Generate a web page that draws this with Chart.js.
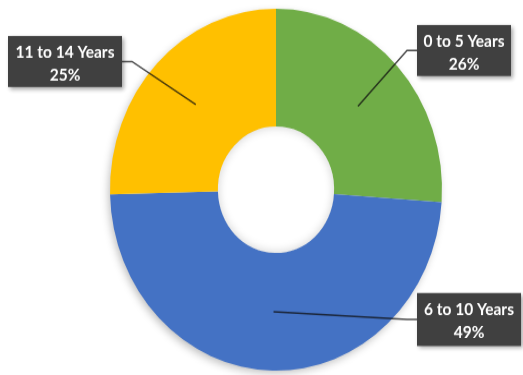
<!DOCTYPE html>
<html>
<head>
<meta charset="utf-8">
<script src="https://cdn.jsdelivr.net/npm/chart.js@4/dist/chart.umd.min.js"></script>
<style>
  html, body { margin: 0; padding: 0; background: #ffffff; }
  #wrap { width: 523px; height: 375px; overflow: hidden; }
  /* the source image is stretched vertically, so the round chart is too */
  #chart { display: block; transform-origin: 0 0; transform: scaleY(1.0901); }
</style>
</head>
<body>
<div id="wrap"><canvas id="chart" width="523" height="344"></canvas></div>
<script>
// data
const categories = ["0 to 5 Years", "6 to 10 Years", "11 to 14 Years"];
const shares = [26.1, 48.5, 25.4];
const sliceColors = ["#70AD47", "#4472C4", "#FFC000"];

// callout boxes, in page pixels: left, top, width, height, side the leader comes in from
const callouts = [
    { x: 417, y: 25, w: 94, h: 51, side: "left" },
    { x: 417, y: 293, w: 104, h: 53, side: "left" },
    { x: 8, y: 36, w: 114, h: 51, side: "right" },
];
const SY = 1.0901;

// soft shadow under the ring and inside the hole
const ringShadow = {
    id: "ringShadow",
    beforeDatasetsDraw(chart) {
        const arc = chart.getDatasetMeta(0).data[0];
        const ctx = chart.ctx;
        ctx.save();
        ctx.shadowColor = "rgba(0,0,0,0.28)";
        ctx.shadowBlur = 9;
        ctx.shadowOffsetX = -2;
        ctx.shadowOffsetY = 3;
        ctx.fillStyle = "#ffffff";
        ctx.beginPath();
        ctx.arc(arc.x, arc.y, arc.outerRadius - 1, 0, Math.PI * 2);
        ctx.fill();
        ctx.restore();
    },
    afterDatasetsDraw(chart) {
        const arc = chart.getDatasetMeta(0).data[0];
        const ctx = chart.ctx;
        ctx.save();
        ctx.beginPath();
        ctx.arc(arc.x, arc.y, arc.innerRadius, 0, Math.PI * 2);
        ctx.clip();
        ctx.shadowColor = "rgba(0,0,0,0.35)";
        ctx.shadowBlur = 8;
        ctx.lineWidth = 6;
        ctx.strokeStyle = "rgba(200,200,200,0.6)";
        ctx.beginPath();
        ctx.arc(arc.x, arc.y, arc.innerRadius + 3, 0, Math.PI * 2);
        ctx.stroke();
        ctx.restore();
    },
};

// dark callouts with leader lines
const calloutLabels = {
    id: "calloutLabels",
    afterDraw(chart) {
        const ctx = chart.ctx;
        const total = shares.reduce((a, b) => a + b, 0);
        chart.getDatasetMeta(0).data.forEach((arc, i) => {
            const c = callouts[i];
            const p = arc.tooltipPosition();
            const bx = c.x, by = c.y / SY, bw = c.w, bh = c.h / SY;
            const cy = by + bh / 2;
            const edge = c.side === "left" ? bx : bx + bw;
            const knee = c.side === "left" ? edge - 10 : edge + 10;

            ctx.save();
            ctx.strokeStyle = "rgba(15,15,15,0.75)";
            ctx.lineWidth = 1.5;
            ctx.beginPath();
            ctx.moveTo(p.x, p.y);
            ctx.lineTo(knee, cy);
            ctx.lineTo(edge, cy);
            ctx.stroke();

            ctx.shadowColor = "rgba(0,0,0,0.35)";
            ctx.shadowBlur = 4;
            ctx.shadowOffsetX = 2;
            ctx.shadowOffsetY = 2;
            ctx.fillStyle = "#404040";
            ctx.fillRect(bx, by, bw, bh);
            ctx.shadowColor = "transparent";

            ctx.fillStyle = "#ffffff";
            ctx.font = "bold 15.5px Lato";
            ctx.textAlign = "center";
            ctx.textBaseline = "middle";
            const tx = bx + bw / 2;
            ctx.fillText(categories[i], tx, cy - 9.5 / SY);
            ctx.fillText(Math.round(shares[i] / total * 100) + "%", tx, cy + 13.5 / SY);
            ctx.restore();
        });
    },
};

new Chart(document.getElementById("chart"), {
    type: "doughnut",
    data: {
        labels: categories,
        datasets: [{
            data: shares,
            backgroundColor: sliceColors,
            borderWidth: 0,
        }],
    },
    options: {
        responsive: false,
        animation: false,
        devicePixelRatio: 1,
        cutout: "35%",
        layout: { padding: { left: 30, right: 1, top: 8, bottom: 4 } },
        plugins: {
            legend: { display: false },
            tooltip: { enabled: false },
        },
    },
    plugins: [ringShadow, calloutLabels],
});
</script>
</body>
</html>
